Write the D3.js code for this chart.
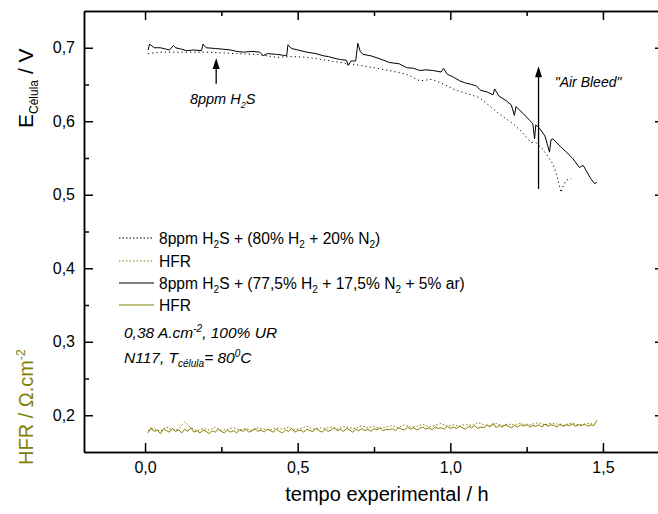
<!DOCTYPE html>
<html>
<head>
<meta charset="utf-8">
<script src="https://cdn.jsdelivr.net/npm/d3@7"></script>
<style>
  body { margin: 0; background: #fff; }
  svg { font-family: "Liberation Sans", Arial, sans-serif; }
  .axis text { font-size: 16px; fill: #000; }
  .axis path, .axis line { stroke: #000; stroke-width: 1.5; }
</style>
</head>
<body>
<script>
// Cell voltage, 8ppm H2S + (77,5% H2 + 17,5% N2 + 5% ar)  (air bleed)
const tAir = [0.01, 0.015, 0.03, 0.05, 0.07, 0.08, 0.093, 0.10, 0.12, 0.136, 0.16, 0.185, 0.19, 0.20, 0.23, 0.256, 0.28, 0.30, 0.322, 0.35,
  0.376, 0.387, 0.40, 0.431, 0.45, 0.464, 0.468, 0.48, 0.50, 0.53, 0.56, 0.585, 0.60, 0.627, 0.64, 0.66, 0.665, 0.675, 0.69, 0.697,
  0.705, 0.714, 0.74, 0.769, 0.80, 0.834, 0.856, 0.88, 0.90, 0.92, 0.943, 0.97, 0.978, 0.99, 1.01, 1.031, 1.05, 1.07, 1.085, 1.10,
  1.12, 1.14, 1.145, 1.16, 1.183, 1.20, 1.21, 1.215, 1.24, 1.26, 1.27, 1.276, 1.28, 1.293, 1.31, 1.325, 1.33, 1.336, 1.36, 1.38,
  1.40, 1.423, 1.435, 1.445, 1.46, 1.473, 1.48]
const vAir = [0.697, 0.705, 0.700, 0.700, 0.698, 0.697, 0.703, 0.700, 0.698, 0.696, 0.697, 0.696, 0.705, 0.700, 0.699, 0.698, 0.697, 0.695, 0.694, 0.695,
  0.694, 0.689, 0.692, 0.691, 0.690, 0.689, 0.704, 0.699, 0.697, 0.694, 0.692, 0.689, 0.688, 0.685, 0.684, 0.683, 0.676, 0.682, 0.682, 0.706,
  0.695, 0.691, 0.689, 0.685, 0.680, 0.678, 0.673, 0.672, 0.669, 0.670, 0.669, 0.667, 0.672, 0.664, 0.660, 0.655, 0.652, 0.650, 0.648, 0.642,
  0.640, 0.636, 0.644, 0.634, 0.628, 0.622, 0.608, 0.620, 0.610, 0.601, 0.597, 0.576, 0.595, 0.590, 0.580, 0.558, 0.575, 0.576, 0.566, 0.558,
  0.550, 0.537, 0.540, 0.533, 0.522, 0.515, 0.517]

// Cell voltage, 8ppm H2S + (80% H2 + 20% N2)
const tN2 = [0.01, 0.05, 0.10, 0.15, 0.20, 0.256, 0.30, 0.365, 0.40, 0.431, 0.48, 0.53, 0.58, 0.638, 0.69, 0.747, 0.80, 0.856, 0.90, 0.94,
  0.98, 1.02, 1.06, 1.096, 1.14, 1.17, 1.205, 1.235, 1.265, 1.28, 1.303, 1.336, 1.35, 1.363, 1.37, 1.38, 1.396]
const vN2 = [0.692, 0.694, 0.694, 0.694, 0.694, 0.693, 0.692, 0.691, 0.689, 0.687, 0.688, 0.687, 0.684, 0.680, 0.677, 0.673, 0.669, 0.664, 0.655, 0.657,
  0.650, 0.642, 0.637, 0.632, 0.617, 0.607, 0.597, 0.585, 0.571, 0.571, 0.562, 0.542, 0.525, 0.503, 0.512, 0.520, 0.522]

// HFR readings (Ohm.cm2), sampled every 0.01 h (air bleed) and 0.02 h (N2)
const hfrAirStart = 0.01, hfrAirStep = 0.01
const hfrAir = [0.176, 0.183, 0.178, 0.180, 0.175, 0.181, 0.179, 0.177, 0.182, 0.178,
  0.180, 0.176, 0.181, 0.178, 0.183, 0.177, 0.179, 0.176, 0.180, 0.178,
  0.175, 0.179, 0.177, 0.181, 0.178, 0.176, 0.180, 0.177, 0.179, 0.176,
  0.180, 0.178, 0.181, 0.177, 0.179, 0.182, 0.178, 0.180, 0.177, 0.181,
  0.179, 0.177, 0.181, 0.178, 0.176, 0.180, 0.178, 0.182, 0.177, 0.179,
  0.180, 0.177, 0.181, 0.179, 0.178, 0.182, 0.179, 0.177, 0.181, 0.178,
  0.180, 0.183, 0.179, 0.181, 0.178, 0.182, 0.180, 0.177, 0.181, 0.179,
  0.182, 0.179, 0.181, 0.178, 0.182, 0.180, 0.183, 0.179, 0.181, 0.180,
  0.182, 0.179, 0.183, 0.181, 0.180, 0.184, 0.181, 0.183, 0.180, 0.182,
  0.184, 0.181, 0.183, 0.180, 0.184, 0.182, 0.183, 0.181, 0.185, 0.182,
  0.184, 0.182, 0.185, 0.183, 0.181, 0.185, 0.183, 0.186, 0.182, 0.184,
  0.183, 0.187, 0.184, 0.189, 0.183, 0.186, 0.184, 0.187, 0.185, 0.183,
  0.186, 0.184, 0.187, 0.185, 0.188, 0.184, 0.186, 0.185, 0.187, 0.184,
  0.188, 0.185, 0.187, 0.186, 0.184, 0.188, 0.185, 0.187, 0.186, 0.188,
  0.185, 0.187, 0.186, 0.188, 0.185, 0.187, 0.186, 0.193]
const hfrN2Start = 0.01, hfrN2Step = 0.02
const hfrN2 = [0.179, 0.182, 0.178, 0.184, 0.180, 0.181, 0.191, 0.183, 0.179, 0.182,
  0.180, 0.184, 0.179, 0.181, 0.183, 0.180, 0.182, 0.179, 0.183, 0.181,
  0.180, 0.183, 0.181, 0.184, 0.180, 0.182, 0.185, 0.181, 0.183, 0.182,
  0.184, 0.181, 0.185, 0.183, 0.182, 0.186, 0.183, 0.185, 0.182, 0.184,
  0.186, 0.183, 0.187, 0.184, 0.185, 0.188, 0.184, 0.186, 0.189, 0.185,
  0.187, 0.185, 0.188, 0.186, 0.190, 0.187, 0.185, 0.189, 0.186, 0.188,
  0.187, 0.189, 0.186, 0.188, 0.190, 0.187, 0.189, 0.188, 0.186, 0.189,
  0.188, 0.187, 0.189, 0.188]

// Axis ticks
const xMajor = [0, 0.5, 1.0, 1.5]
const xMinor = [0.25, 0.75, 1.25]
const yMajor = [0.2, 0.3, 0.4, 0.5, 0.6, 0.7]
const yMinor = [0.25, 0.35, 0.45, 0.55, 0.65]

const w = 658, h = 514
const olive = "#808000"

const x = d3.scaleLinear().domain([-0.2, 1.7]).range([84, 664])
const y = d3.scaleLinear().domain([0.15, 0.75]).range([452, 11])
const fmt = d => d3.format(".1f")(d).replace(".", ",")

const svg = d3.select("body").append("svg")
  .attr("width", w)
  .attr("height", h)

// Frame axes, ticks pointing inward
const axisG = (axis, tx, ty) => svg.append("g").attr("class", "axis")
  .attr("transform", `translate(${tx},${ty})`).call(axis)

axisG(d3.axisBottom(x).tickValues(xMajor).tickSizeInner(-9).tickSizeOuter(0).tickPadding(10).tickFormat(fmt), 0, y(0.15))
axisG(d3.axisBottom(x).tickValues(xMinor).tickSizeInner(-5).tickSizeOuter(0).tickFormat(""), 0, y(0.15))
axisG(d3.axisTop(x).tickValues(xMajor).tickSizeInner(-9).tickSizeOuter(0).tickFormat(""), 0, y(0.75))
axisG(d3.axisTop(x).tickValues(xMinor).tickSizeInner(-5).tickSizeOuter(0).tickFormat(""), 0, y(0.75))
axisG(d3.axisLeft(y).tickValues(yMajor).tickSizeInner(-9).tickSizeOuter(0).tickPadding(9).tickFormat(fmt), x(-0.2), 0)
axisG(d3.axisLeft(y).tickValues(yMinor).tickSizeInner(-5).tickSizeOuter(0).tickFormat(""), x(-0.2), 0)
axisG(d3.axisRight(y).tickValues(yMajor).tickSizeInner(-9).tickSizeOuter(0).tickFormat(""), x(1.7), 0)
axisG(d3.axisRight(y).tickValues(yMinor).tickSizeInner(-5).tickSizeOuter(0).tickFormat(""), x(1.7), 0)

// Lines
const line = d3.line().x(d => x(d[0])).y(d => y(d[1]))
const zipT = (ts, vs) => vs.map((v, i) => [ts[i], v])
const zipStep = (t0, step, vs) => vs.map((v, i) => [t0 + i * step, v])

svg.append("path").datum(zipStep(hfrN2Start, hfrN2Step, hfrN2))
  .attr("d", line).attr("fill", "none").attr("stroke", olive).attr("stroke-width", 1)
  .attr("stroke-dasharray", "1.5,2")
svg.append("path").datum(zipStep(hfrAirStart, hfrAirStep, hfrAir))
  .attr("d", line).attr("fill", "none").attr("stroke", olive).attr("stroke-width", 1)
svg.append("path").datum(zipT(tN2, vN2))
  .attr("d", line).attr("fill", "none").attr("stroke", "#000").attr("stroke-width", 1)
  .attr("stroke-dasharray", "1.2,3")
svg.append("path").datum(zipT(tAir, vAir))
  .attr("d", line).attr("fill", "none").attr("stroke", "#000").attr("stroke-width", 1)

// Arrows
const arrow = (t, v0, v1) => {
  svg.append("line").attr("x1", x(t)).attr("x2", x(t))
    .attr("y1", y(v0)).attr("y2", y(v1) + 8).attr("stroke", "#000").attr("stroke-width", 1.3)
  const xt = x(t), yt = y(v1)
  svg.append("path").attr("d", `M${xt},${yt} L${xt - 3.5},${yt + 11} L${xt + 3.5},${yt + 11} Z`).attr("fill", "#000")
}
arrow(0.233, 0.651, 0.686)
arrow(1.289, 0.508, 0.675)

const it = svg.append("text").attr("x", x(0.147)).attr("y", y(0.624))
  .attr("font-size", 14.5).attr("font-style", "italic")
it.append("tspan").text("8ppm H")
it.append("tspan").text("2").attr("font-size", 9).attr("dy", 4)
it.append("tspan").text("S").attr("dy", -4)

svg.append("text").attr("x", x(1.342)).attr("y", y(0.646))
  .attr("font-size", 14).attr("font-style", "italic").text("\"Air Bleed\"")

// Legend
const legendRows = [
  { y: 238, color: "#000", dash: "1.5,2", parts: [["8ppm H"], ["2", "sub"], ["S + (80% H"], ["2", "sub"], [" + 20% N"], ["2", "sub"], [")"]] },
  { y: 261, color: olive, dash: "1.5,2", parts: [["HFR"]] },
  { y: 283, color: "#000", dash: null, parts: [["8ppm H"], ["2", "sub"], ["S + (77,5% H"], ["2", "sub"], [" + 17,5% N"], ["2", "sub"], [" + 5% ar)"]] },
  { y: 305, color: olive, dash: null, parts: [["HFR"]] }
]
legendRows.forEach(r => {
  svg.append("line").attr("x1", 119).attr("x2", 154).attr("y1", r.y).attr("y2", r.y)
    .attr("stroke", r.color).attr("stroke-width", 1.2).attr("stroke-dasharray", r.dash)
  const t = svg.append("text").attr("x", 159).attr("y", r.y + 5.5).attr("font-size", 15.6)
  let sub = false
  r.parts.forEach(p => {
    const s = t.append("tspan").text(p[0])
    if (p[1] === "sub") { s.attr("font-size", 10).attr("dy", 4); sub = true }
    else if (sub) { s.attr("dy", -4); sub = false }
  })
})

// Conditions
const c1 = svg.append("text").attr("x", 124).attr("y", 338).attr("font-size", 15.5).attr("font-style", "italic")
c1.append("tspan").text("0,38 A.cm")
c1.append("tspan").text("-2").attr("font-size", 10).attr("dy", -6)
c1.append("tspan").text(", 100% UR").attr("dy", 6)
const c2 = svg.append("text").attr("x", 124).attr("y", 363).attr("font-size", 15.5).attr("font-style", "italic")
c2.append("tspan").text("N117, T")
c2.append("tspan").text("célula").attr("font-size", 10).attr("dy", 4)
c2.append("tspan").text("= 80").attr("dy", -4)
c2.append("tspan").text("0").attr("font-size", 10).attr("dy", -6)
c2.append("tspan").text("C").attr("dy", 6)

// Axis titles
svg.append("text").attr("x", 387).attr("y", 501)
  .attr("text-anchor", "middle").attr("font-size", 20).text("tempo experimental / h")

const ey = svg.append("text").attr("transform", "translate(33,128) rotate(-90)").attr("font-size", 21)
ey.append("tspan").text("E")
ey.append("tspan").text("Célula").attr("font-size", 12).attr("dy", 5)
ey.append("tspan").text(" / V").attr("dy", -5)

const hy = svg.append("text").attr("transform", "translate(33,465) rotate(-90)").attr("font-size", 20).attr("fill", olive)
hy.append("tspan").text("HFR / \u03A9.cm")
hy.append("tspan").text("-2").attr("font-size", 12).attr("dy", -8)
</script>
</body>
</html>
